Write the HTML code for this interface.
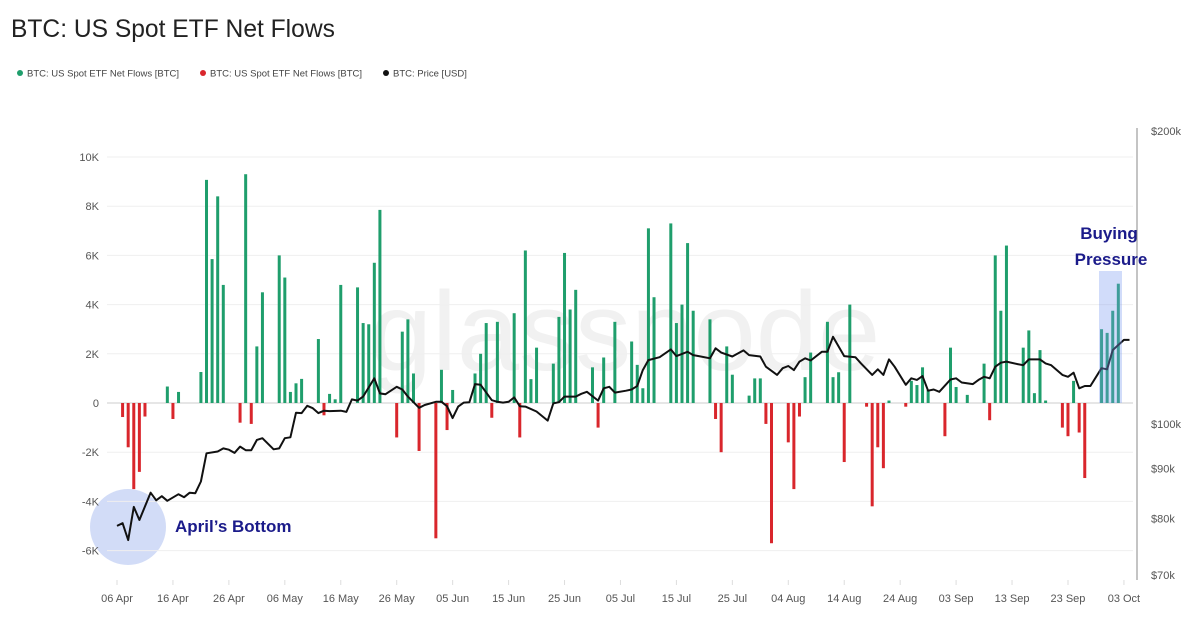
<!DOCTYPE html>
<html><head><meta charset="utf-8">
<style>
body{margin:0;background:#fff;width:1199px;height:625px;overflow:hidden;font-family:"Liberation Sans",sans-serif;}
svg{position:absolute;left:0;top:0;}
</style></head>
<body>
<svg id="chart" width="1199" height="625">
<text x="11" y="37" font-size="24.6" fill="#222">BTC: US Spot ETF Net Flows</text>
<g font-size="9.5" fill="#444">
 <g><circle cx="20" cy="73" r="3" fill="#1f9e6c"/><text x="27" y="76.5">BTC: US Spot ETF Net Flows [BTC]</text></g>
 <g><circle cx="203" cy="73" r="3" fill="#d9262c"/><text x="210" y="76.5">BTC: US Spot ETF Net Flows [BTC]</text></g>
 <g><circle cx="386" cy="73" r="3" fill="#111"/><text x="393" y="76.5">BTC: Price [USD]</text></g>
</g>
<text x="625" y="370" font-size="112" fill="#f1f1f1" text-anchor="middle">glassnode</text>
<g id="grid"></g><g id="bars"></g><g id="line"></g><g id="axes"></g><g id="annot"></g>
</svg>
<script>
// Net flows (K BTC) by day index from 06 Apr
const flowDays = [1,2,3,4,5,9,10,11,15,16,17,18,19,22,23,24,25,26,29,30,31,32,33,36,37,38,39,40,43,44,45,46,47,50,51,52,53,54,57,58,59,60,64,65,66,67,68,71,72,73,74,75,78,79,80,81,82,85,86,87,89,92,93,94,95,96,99,100,101,102,103,106,107,108,109,110,113,114,115,116,117,120,121,122,123,124,127,128,129,130,131,134,135,136,137,138,141,142,143,144,145,148,149,150,152,155,156,157,158,159,162,163,164,165,166,169,170,171,172,173,176,177,178,179];
const flowValues = [-0.57,-1.8,-3.5,-2.8,-0.55,0.67,-0.65,0.45,1.26,9.07,5.85,8.4,4.8,-0.8,9.3,-0.85,2.3,4.5,6.0,5.1,0.45,0.8,0.98,2.6,-0.5,0.37,0.15,4.8,4.7,3.25,3.2,5.7,7.85,-1.4,2.9,3.4,1.2,-1.95,-5.5,1.35,-1.1,0.53,1.2,2.0,3.25,-0.6,3.3,3.65,-1.4,6.2,0.97,2.25,1.6,3.5,6.1,3.8,4.6,1.45,-1.0,1.85,3.3,2.5,1.55,0.6,7.1,4.3,7.3,3.25,4.0,6.5,3.75,3.4,-0.65,-2.0,2.3,1.15,0.3,1.0,1.0,-0.85,-5.7,-1.6,-3.5,-0.55,1.05,2.05,3.3,1.05,1.25,-2.4,4.0,-0.15,-4.2,-1.8,-2.65,0.1,-0.15,0.9,0.73,1.45,0.53,-1.35,2.25,0.65,0.33,1.6,-0.7,6.0,3.75,6.4,2.25,2.95,0.4,2.15,0.1,-1.0,-1.35,0.9,-1.2,-3.05,3.0,2.85,3.75,4.85];
// BTC price (K USD)
const priceDays = [0,1,2,3,4,6,7,8,9,11,12,13,14,15,16,18,19,20,21,22,23,24,25,26,28,29,30,31,32,33,34,35,36,37,38,40,41,42,43,44,46,47,48,50,51,52,54,55,57,58,59,60,61,62,63,64,65,67,68,69,70,71,72,73,75,77,78,79,80,81,82,83,84,86,87,88,89,91,92,93,94,95,97,99,100,102,103,104,106,107,108,110,112,113,115,116,118,119,120,121,122,123,124,126,127,128,130,132,133,135,136,137,138,139,141,142,143,144,145,146,147,149,150,151,153,154,155,156,157,158,159,161,162,163,165,166,167,169,170,171,172,173,174,176,177,178,180,181];
const prices = [78.6,79.1,76.0,82.2,79.7,85.0,83.5,84.3,83.4,84.7,84.1,85.0,84.9,87.3,93.3,93.7,94.4,94.1,93.4,94.8,94.0,94.0,96.3,96.7,94.2,94.4,96.7,96.9,102.7,102.6,104.4,103.8,102.6,103.2,103.1,103.2,102.9,106.0,105.7,106.7,111.4,107.5,107.3,109.2,108.5,106.7,103.9,104.6,105.4,105.4,104.3,101.4,104.2,105.2,105.3,109.9,109.7,105.8,105.4,105.2,105.4,106.5,104.3,104.2,103.0,100.8,105.0,105.3,106.7,106.7,106.7,107.4,107.9,105.7,108.8,109.2,107.7,108.2,108.5,109.4,113.6,116.3,117.1,119.3,117.4,118.6,117.7,117.4,116.8,119.6,118.4,117.3,119.0,117.7,117.3,114.5,112.3,114.1,114.7,113.6,115.9,116.8,116.2,118.6,118.6,122.9,117.4,117.1,115.4,112.3,113.8,112.3,116.5,114.5,109.7,111.4,111.0,112.0,108.2,108.5,107.9,111.1,111.4,110.3,109.9,111.0,111.8,111.4,114.5,115.6,115.9,115.2,114.9,116.5,116.5,115.4,114.9,112.3,111.8,112.9,108.8,109.4,109.4,114.1,113.8,119.1,122.0,122.0];
const leftTicks = [10,8,6,4,2,0,-2,-4,-6];
const leftTickLabels = ["10K","8K","6K","4K","2K","0","-2K","-4K","-6K"];
const rightTicks = [200,100,90,80,70];
const rightTickLabels = ["$200k","$100k","$90k","$80k","$70k"];
const xTickDays = [0,10,20,30,40,50,60,70,80,90,100,110,120,130,140,150,160,170,180];
const xTickLabels = ["06 Apr","16 Apr","26 Apr","06 May","16 May","26 May","05 Jun","15 Jun","25 Jun","05 Jul","15 Jul","25 Jul","04 Aug","14 Aug","24 Aug","03 Sep","13 Sep","23 Sep","03 Oct"];

const NS="http://www.w3.org/2000/svg";
const xs = d => 117 + d*5.594;
const yl = v => 403 - v*24.6;
const yr = p => 424 - 423*Math.log(p/100);
function mk(tag, attrs, parent){const e=document.createElementNS(NS,tag);for(const k in attrs)e.setAttribute(k,attrs[k]);parent.appendChild(e);return e;}
const grid=document.getElementById('grid'),bars=document.getElementById('bars'),line=document.getElementById('line'),axes=document.getElementById('axes'),annot=document.getElementById('annot');

leftTicks.forEach((v,i)=>{
  const g=mk('line',{x1:107,x2:1133,y1:yl(v),y2:yl(v),stroke:v===0?'#ccc':'#efefef','stroke-width':1},grid);
  
  
  const t=mk('text',{x:99,y:yl(v)+4,'font-size':11,fill:'#555','text-anchor':'end'},axes);
  t.textContent=leftTickLabels[i];
  
  
});
rightTicks.forEach((p,i)=>{
  const t=mk('text',{x:1151,y:yr(p)+4,'font-size':11,fill:'#555'},axes);
  t.textContent=rightTickLabels[i];
  
  
});
const ax=mk('line',{x1:1137,x2:1137,y1:128,y2:580,stroke:'#888','stroke-width':1},axes);


xTickDays.forEach((d,i)=>{
  const tk=mk('line',{x1:xs(d),x2:xs(d),y1:580,y2:585,stroke:'#ddd'},axes);
  
  
  const t=mk('text',{x:xs(d),y:602,'font-size':11,fill:'#555','text-anchor':'middle'},axes);
  t.textContent=xTickLabels[i];
  
  
});
flowDays.forEach((d,i)=>{
  const v=flowValues[i];
  const y0=yl(0),y1=yl(v);
  const r=mk('rect',{x:xs(d)-1.5,y:Math.min(y0,y1),width:3,height:Math.max(1,Math.abs(y1-y0)),fill:v>=0?'#1f9e6c':'#d9262c'},bars);
  
  
});
const pts=priceDays.map((d,i)=>xs(d).toFixed(1)+','+yr(prices[i]).toFixed(1)).join(' ');
const pl=mk('polyline',{points:pts,fill:'none',stroke:'#111','stroke-width':2,'stroke-linejoin':'round'},line);



// annotations
const c=mk('circle',{cx:128,cy:527,r:38,fill:'#c3d0f4','fill-opacity':0.75},annot);


annot.parentNode.insertBefore(annot,grid);
const ann2=document.createElementNS(NS,'g');document.getElementById('chart').appendChild(ann2);
const t1=mk('text',{x:175,y:532,'font-size':17,'font-weight':'bold',fill:'#1b1b8a'},ann2);
t1.textContent="April’s Bottom";


const hr=mk('rect',{x:1099,y:271,width:23,height:132,fill:'#7b9cf0','fill-opacity':0.35},ann2);


const t2=mk('text',{x:1109,y:239,'font-size':17,'font-weight':'bold',fill:'#1b1b8a','text-anchor':'middle'},ann2);
t2.textContent="Buying";


const t3=mk('text',{x:1111,y:265,'font-size':17,'font-weight':'bold',fill:'#1b1b8a','text-anchor':'middle'},ann2);
t3.textContent="Pressure";


</script>
</body></html>
